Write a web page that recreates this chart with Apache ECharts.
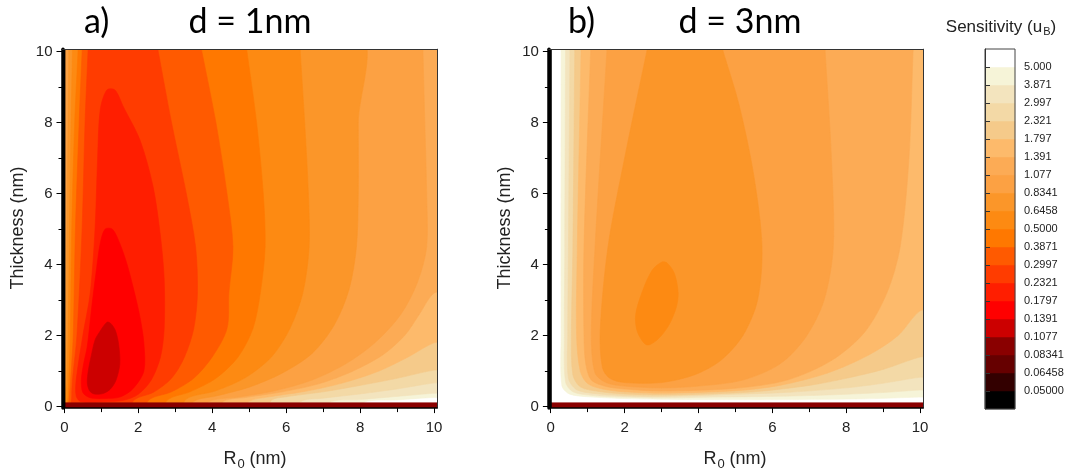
<!DOCTYPE html>
<html><head><meta charset="utf-8">
<script src="https://cdn.jsdelivr.net/npm/echarts@6/dist/echarts.min.js"></script>
<style>html,body{margin:0;padding:0;background:#fff}#c{width:1068px;height:472px}</style>
</head><body><div id="c"></div>
<script>
// ---- colour scale (contour levels, upper bounds of bands) ----
const levels = [0.05,0.06458,0.08341,0.1077,0.1391,0.1797,0.2321,0.2997,0.3871,0.5,0.6458,0.8341,1.077,1.391,1.797,2.321,2.997,3.871,5.0];
const levelLabels = ['0.05000','0.06458','0.08341','0.1077','0.1391','0.1797','0.2321','0.2997','0.3871','0.5000','0.6458','0.8341','1.077','1.391','1.797','2.321','2.997','3.871','5.000'];
const bandColors = ['#000000','#330000','#660000','#8a0000','#cc0000','#ff0000','#ff1e00','#ff3c00','#ff5a00','#ff7800',
                    '#fd8a12','#fb9629','#fca143','#fcab55','#fdba6b','#f5ca8a','#f3d9a6','#f3e4be','#f6f4d8','#ffffff'];
const axisTickValues = [0,2,4,6,8,10];

// ---- contour regions: value < level inside polygon (R0 nm, thickness nm) ----
const fullArea = [[-1,-1],[11,-1],[11,11],[-1,11]];
const bottomStrip = [[-1,-1],[11,-1],[11,0.11],[-1,0.11]];
const leftStrip = [[-1,-1],[0.02,-1],[0.02,11],[-1,11]];

// panel a) d = 1nm
const a5000 = [[-0.3,10.5],[10.5,10.5],[10.5,0.27],[10,0.26],[9,0.19],[8.1,0.12],[8.0,-0.3],[-0.3,-0.3]];
const a3871 = [[-0.3,10.5],[10.5,10.5],[10.5,0.4],[10,0.38],[9,0.29],[8,0.2],[7.2,0.13],[7.0,-0.3],[-0.3,-0.3]];
const a2997 = [[-0.3,10.5],[10.5,10.5],[10.5,0.7],[10,0.67],[9,0.5],[8,0.36],[7,0.24],[6.4,0.15],[6.2,-0.3],[-0.3,-0.3]];
const a2321 = [[-0.3,10.5],[10.5,10.5],[10.5,1.05],[10,1.03],[9,0.8],[8,0.6],[7,0.42],[6,0.28],[5.6,0.18],[5.4,-0.3],[-0.3,-0.3]];
const a1797 = [[-0.3,10.5],[10.5,10.5],[10.5,1.85],[10,1.8],[9.3,1.4],[8.5,1.0],[7.5,0.66],[6.5,0.43],[5.5,0.27],[5.0,0.15],[4.7,-0.3],[-0.3,-0.3]];
const a1391 = [[-0.3,10.5],[10.5,10.5],[10.5,3.3],[10,3.2],[9.6,2.6],[9.2,2.0],[8.6,1.45],[7.8,1.0],[6.9,0.65],[5.9,0.42],[4.9,0.26],[4.3,0.15],[4.1,-0.3],[-0.3,-0.3]];
const a1077 = [[0.04,10.5],[9.69,10.5],[9.7,10],[9.75,8],[9.8,6],[9.8,4.5],[9.55,3.5],[9.1,2.6],[8.4,1.8],[7.6,1.2],[6.7,0.75],[5.7,0.45],[4.7,0.27],[3.9,0.14],[3.7,-0.3],[0.03,-0.3],[0.03,5]];
const a0834 = [[0.12,10.5],[7.95,10.5],[7.95,8],[7.95,6],[7.9,4.5],[7.7,3.3],[7.3,2.3],[6.7,1.5],[5.9,0.95],[5.0,0.55],[4.1,0.3],[3.5,0.15],[3.3,-0.3],[0.05,-0.3],[0.05,2],[0.08,6],[0.12,10]];
const a0646 = [[0.23,10.5],[6.35,10.5],[6.38,10],[6.5,8],[6.6,6],[6.62,4.5],[6.45,3.2],[6.1,2.2],[5.6,1.4],[4.9,0.82],[4.1,0.45],[3.3,0.22],[3.0,-0.3],[0.07,-0.3],[0.07,0.75],[0.1,2],[0.14,5],[0.18,8],[0.22,10]];
const a0500 = [[0.39,10.5],[4.87,10.5],[4.94,10],[5.2,8],[5.38,6],[5.43,4.5],[5.3,3.2],[5.1,2.2],[4.7,1.4],[4.1,0.8],[3.4,0.42],[2.8,0.2],[2.5,-0.3],[0.1,-0.3],[0.1,0.3],[0.12,0.75],[0.16,2],[0.2,5],[0.28,8],[0.37,10]];
const a0387 = [[0.5,10.5],[3.62,10.5],[3.72,10],[4.1,8],[4.4,6],[4.56,4.5],[4.45,3.2],[4.4,2.2],[4.0,1.4],[3.5,0.8],[2.9,0.42],[2.3,0.2],[2.0,-0.3],[0.14,-0.3],[0.14,0.3],[0.17,0.75],[0.24,2],[0.3,5],[0.4,8],[0.48,10]];
const a0300 = [[0.66,10.5],[2.45,10.5],[2.54,10],[2.9,8],[3.3,6],[3.55,4.5],[3.6,3.2],[3.5,2.2],[3.25,1.4],[2.9,0.8],[2.4,0.4],[1.9,0.2],[1.6,-0.3],[0.22,-0.3],[0.2,0.3],[0.22,0.75],[0.34,2],[0.48,5],[0.56,8],[0.64,10]];
const a0232 = [[1.15,8.92],[1.37,8.92],[1.6,8.44],[2.05,7.5],[2.4,6.2],[2.6,4.8],[2.7,3.6],[2.7,2.2],[2.6,1.4],[2.35,0.75],[2.0,0.35],[1.6,0.18],[1.0,0.13],[0.45,0.14],[0.32,0.3],[0.32,0.75],[0.5,2.0],[0.7,3.2],[0.83,5.0],[0.9,7.0],[0.97,8.36]];
const a0180 = [[1.1,5.0],[1.3,5.0],[1.5,4.6],[1.7,4.0],[1.9,3.2],[2.05,2.5],[2.15,1.8],[2.15,1.0],[1.85,0.5],[1.5,0.27],[1.1,0.23],[0.7,0.25],[0.5,0.4],[0.46,0.75],[0.52,1.2],[0.62,1.7],[0.74,2.8],[0.86,3.8],[0.97,4.6]];
const a0139 = [[1.15,2.38],[0.95,2.1],[0.83,1.88],[0.72,1.4],[0.65,1.03],[0.62,0.67],[0.68,0.45],[0.8,0.36],[1.05,0.37],[1.25,0.5],[1.4,0.75],[1.5,1.2],[1.47,1.75],[1.38,2.15],[1.25,2.35]];

// panel b) d = 3nm
const b5000 = [[0.28,10.5],[10.5,10.5],[10.5,0.28],[10,0.27],[8.5,0.22],[6.5,0.2],[4.5,0.2],[3,0.21],[2,0.23],[1,0.28],[0.5,0.36],[0.3,0.6],[0.28,2],[0.28,10]];
const b3871 = [[0.4,10.5],[10.5,10.5],[10.5,0.48],[10,0.47],[9,0.4],[7.5,0.33],[6,0.29],[4.5,0.27],[3,0.25],[2,0.27],[1.1,0.32],[0.6,0.42],[0.4,0.7],[0.37,2],[0.38,4.5],[0.4,10]];
const b2997 = [[0.52,10.5],[10.5,10.5],[10.5,0.85],[10,0.83],[9,0.66],[8,0.53],[6.5,0.41],[5,0.35],[3,0.29],[2,0.31],[1.2,0.37],[0.7,0.48],[0.48,0.8],[0.46,2],[0.48,4.5],[0.52,10]];
const b2321 = [[0.65,10.5],[10.5,10.5],[10.5,1.45],[10,1.4],[9,1.05],[8,0.8],[7,0.6],[5.5,0.42],[4,0.35],[3,0.33],[2,0.36],[1.3,0.43],[0.8,0.56],[0.6,0.9],[0.56,2],[0.6,4.5],[0.65,10]];
const b1797 = [[0.82,10.5],[10.5,10.5],[10.5,2.8],[10,2.7],[9.4,2.0],[8.6,1.45],[7.5,0.95],[6.2,0.6],[5,0.45],[3,0.38],[2,0.42],[1.4,0.5],[1.0,0.65],[0.8,1.0],[0.7,2],[0.72,4.5],[0.82,10]];
const b1391 = [[1.1,10.5],[9.83,10.5],[9.81,10],[9.7,7],[9.46,4.5],[9.1,3.2],[8.5,2.1],[7.6,1.3],[6.4,0.75],[5,0.52],[3,0.44],[2,0.5],[1.5,0.57],[1.1,0.75],[0.95,1.2],[0.9,2],[0.9,4.5],[1.08,10]];
const b1077 = [[1.55,10.5],[7.40,10.5],[7.43,10],[7.6,7],[7.65,4.5],[7.4,3],[6.9,1.95],[6.2,1.2],[5.2,0.75],[4,0.58],[3,0.53],[2,0.58],[1.5,0.68],[1.2,0.95],[1.1,2],[1.2,4.5],[1.52,10]];
const b0834 = [[2.7,10.5],[4.53,10.5],[4.67,10],[5.1,8.5],[5.5,6.5],[5.72,4.5],[5.6,3],[5.2,2],[4.6,1.3],[3.9,0.9],[3,0.68],[2,0.68],[1.6,0.8],[1.4,1.1],[1.34,2.15],[1.55,4.5],[2.0,7],[2.6,10]];
const b0646 = [[3.0,4.07],[2.75,3.85],[2.5,3.3],[2.3,2.6],[2.35,2.1],[2.6,1.74],[2.9,1.9],[3.2,2.3],[3.4,2.8],[3.45,3.2],[3.35,3.75],[3.15,4.05]];

const panelA = [[null,fullArea],[5.0,a5000],[3.871,a3871],[2.997,a2997],[2.321,a2321],[1.797,a1797],[1.391,a1391],[1.077,a1077],
  [0.8341,a0834],[0.6458,a0646],[0.5,a0500],[0.3871,a0387],[0.2997,a0300],[0.2321,a0232],[0.1797,a0180],[0.1391,a0139],
  [0.1077,bottomStrip],[0.05,leftStrip]];
const panelB = [[null,fullArea],[5.0,b5000],[3.871,b3871],[2.997,b2997],[2.321,b2321],[1.797,b1797],[1.391,b1391],[1.077,b1077],
  [0.8341,b0834],[0.6458,b0646],[0.1077,bottomStrip],[0.05,leftStrip]];
const straightShapes = [fullArea, bottomStrip, leftStrip];

function colorFor(level){ return level === null ? bandColors[bandColors.length-1] : bandColors[levels.indexOf(level)]; }

const FONT = "'Liberation Sans', Arial, sans-serif";
const chart = echarts.init(document.getElementById('c'), null, {renderer:'canvas'});

function contourSeries(panel, idx){
  return {
    type:'custom', coordinateSystem:'cartesian2d', xAxisIndex:idx, yAxisIndex:idx, clip:true, silent:true, z:2,
    data: panel.map((p,i)=>[i,0]),
    renderItem: function(params, api){
      const item = panel[params.dataIndex];
      const pts = item[1].map(pt => api.coord(pt));
      const c = colorFor(item[0]);
      const smooth = straightShapes.indexOf(item[1]) >= 0 ? 0 : 0.3;
      return {type:'polygon', shape:{points:pts, smooth:smooth}, style:{fill:c, stroke:c, lineWidth:0.6}};
    }
  };
}
function intLabel(v){ return Math.abs(v - Math.round(v)) < 1e-6 && axisTickValues.indexOf(Math.round(v)) >= 0 ? String(Math.round(v)) : ''; }
function mainX(grid){
  return {gridIndex:grid, type:'value', min:-0.05, max:10.08, position:'bottom', z:10,
    axisLine:{show:true, onZero:false, lineStyle:{color:'#000', width:1.5}},
    axisTick:{show:true, length:5, customValues:axisTickValues, lineStyle:{color:'#000'}},
    minorTick:{show:true, splitNumber:2, length:4, lineStyle:{color:'#000'}},
    axisLabel:{fontSize:15, color:'#222', fontFamily:FONT, margin:12, customValues:axisTickValues, showMinLabel:true, showMaxLabel:true, formatter:intLabel},
    splitLine:{show:false}, minorSplitLine:{show:false}};
}
function mainY(grid){
  return {gridIndex:grid, type:'value', min:-0.04, max:10.07, position:'left', z:10,
    axisLine:{show:true, onZero:false, lineStyle:{color:'#000', width:3.5}},
    axisTick:{show:true, length:6, customValues:axisTickValues, lineStyle:{color:'#000'}},
    minorTick:{show:true, splitNumber:2, length:4, lineStyle:{color:'#000'}},
    axisLabel:{fontSize:15, color:'#222', fontFamily:FONT, margin:10, customValues:axisTickValues, showMinLabel:true, showMaxLabel:true, formatter:intLabel},
    splitLine:{show:false}, minorSplitLine:{show:false}};
}
function frameAxis(grid, pos, isX){
  return {gridIndex:grid, type:'value', position:pos, z:10, min: isX ? -0.05 : -0.04, max: isX ? 10.08 : 10.07,
    axisLine:{show:true, onZero:false, lineStyle:{color:'#333', width:1}},
    axisTick:{show:false}, axisLabel:{show:false}, splitLine:{show:false}};
}

const option = {
  animation:false,
  grid:[
    {left:62.5, top:49.2, width:374.5, height:358.9},
    {left:548.9, top:49.2, width:374.1, height:358.9},
    {left:985, top:49, width:30, height:360}
  ],
  xAxis:[ mainX(0), mainX(1), frameAxis(0,'top',true), frameAxis(1,'top',true),
    {gridIndex:2, type:'value', min:0, max:1, show:false} ],
  yAxis:[ mainY(0), mainY(1), frameAxis(0,'right',false), frameAxis(1,'right',false),
    {gridIndex:2, type:'category', data:[''].concat(levelLabels).concat(['']), boundaryGap:false, position:'right', z:10,
     axisLine:{show:true, lineStyle:{color:'#333', width:1}},
     axisTick:{show:true, length:5, interval:function(i){ return i>0 && i<levelLabels.length+1; }, lineStyle:{color:'#333'}},
     axisLabel:{interval:0, fontSize:11, color:'#222', fontFamily:FONT, margin:9},
     splitLine:{show:false}} ],
  series:[
    contourSeries(panelA, 0),
    contourSeries(panelB, 1),
    {type:'custom', coordinateSystem:'cartesian2d', xAxisIndex:4, yAxisIndex:4, silent:true, z:2,
     data: bandColors.map((c,i)=>[0,i]).concat([[0,-1]]),
     renderItem: function(params, api){
       const i = params.dataIndex;
       if (i === bandColors.length) {
         const p0 = api.coord([0,0]), p1 = api.coord([1,bandColors.length]);
         return {type:'rect', shape:{x:p0[0], y:p1[1], width:p1[0]-p0[0], height:p0[1]-p1[1]}, style:{fill:'none', stroke:'#444', lineWidth:1}, z2:10};
       }
       const p0 = api.coord([0,i]), p1 = api.coord([1,i+1]);
       return {type:'rect', shape:{x:p0[0], y:p1[1], width:p1[0]-p0[0], height:p0[1]-p1[1]}, style:{fill:bandColors[i], stroke:bandColors[i], lineWidth:0.5}};
     }}
  ],
  graphic:[
    {type:'text', x:84, y:22, style:{text:'a)', fontSize:34, fontFamily:'Lato', fill:'#000', align:'left', verticalAlign:'middle'}},
    {type:'text', x:250, y:22, style:{text:'d = 1nm', fontSize:34, fontFamily:'Lato', fill:'#000', align:'center', verticalAlign:'middle'}},
    {type:'text', x:568, y:22, style:{text:'b)', fontSize:34, fontFamily:'Lato', fill:'#000', align:'left', verticalAlign:'middle'}},
    {type:'text', x:740, y:22, style:{text:'d = 3nm', fontSize:34, fontFamily:'Lato', fill:'#000', align:'center', verticalAlign:'middle'}},
    {type:'text', x:18, y:228, rotation:Math.PI/2, style:{text:'Thickness (nm)', fontSize:18, fontFamily:FONT, fill:'#222', align:'center', verticalAlign:'middle'}},
    {type:'text', x:505, y:228, rotation:Math.PI/2, style:{text:'Thickness (nm)', fontSize:18, fontFamily:FONT, fill:'#222', align:'center', verticalAlign:'middle'}},
    {type:'text', x:255, y:457, style:{text:'{n|R}{s|0}{n| (nm)}', align:'center', verticalAlign:'middle', fill:'#222',
      rich:{n:{fontSize:18, fontFamily:FONT, fill:'#222', lineHeight:22, verticalAlign:'bottom'}, s:{fontSize:13, fontFamily:FONT, fill:'#222', lineHeight:13, verticalAlign:'top', padding:[12,0,0,1]}}}},
    {type:'text', x:735, y:457, style:{text:'{n|R}{s|0}{n| (nm)}', align:'center', verticalAlign:'middle', fill:'#222',
      rich:{n:{fontSize:18, fontFamily:FONT, fill:'#222', lineHeight:22, verticalAlign:'bottom'}, s:{fontSize:13, fontFamily:FONT, fill:'#222', lineHeight:13, verticalAlign:'top', padding:[12,0,0,1]}}}},
    {type:'text', x:1001, y:26, style:{text:'{n|Sensitivity (u}{s|B}{n|)}', align:'center', verticalAlign:'middle', fill:'#222',
      rich:{n:{fontSize:17, fontFamily:FONT, fill:'#222', lineHeight:20, verticalAlign:'bottom'}, s:{fontSize:11, fontFamily:FONT, fill:'#222', lineHeight:11, verticalAlign:'top', padding:[10,0,0,1]}}}}
  ]
};
chart.setOption(option);
</script>
</body></html>
